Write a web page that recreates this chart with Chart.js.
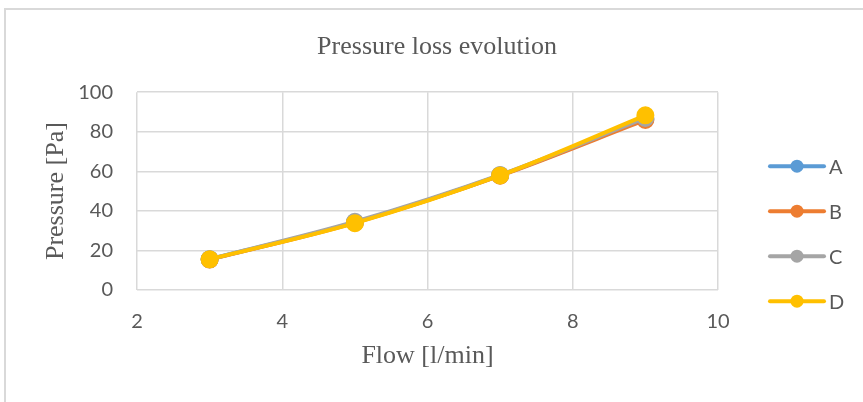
<!DOCTYPE html>
<html>
<head>
<meta charset="utf-8">
<script src="https://cdn.jsdelivr.net/npm/chart.js@4.4.0/dist/chart.umd.min.js"></script>
<style>
  html, body { margin: 0; padding: 0; background: #fff; overflow: hidden; }
  #wrap { position: relative; width: 863px; height: 402px; }
  #frame { position: absolute; left: 4px; top: 8px; width: 900px; height: 500px; border: 2px solid #d9d9d9; box-sizing: border-box; }
  canvas { position: absolute; left: 0; top: 0; }
</style>
</head>
<body>
<div id="wrap">
  <div id="frame"></div>
  <canvas id="chart" width="863" height="402"></canvas>
</div>
<script>
// data
const flow = [3, 5, 7, 9];
const seriesA = [15.5, 34.2, 58.0, 86.5];
const seriesB = [15.4, 34.0, 57.8, 86.0];
const seriesC = [15.6, 34.5, 58.2, 87.0];
const seriesD = [15.5, 33.8, 57.9, 88.3];
const seriesNames = ['A', 'B', 'C', 'D'];
const seriesColors = ['#5B9BD5', '#ED7D31', '#A5A5A5', '#FFC000'];
const xTicks = [2, 4, 6, 8, 10];
const yTicks = [0, 20, 40, 60, 80, 100];

const textGray = '#595959';
const gridGray = '#d9d9d9';

const toPoints = (ys) => flow.map((x, i) => ({ x: x, y: ys[i] }));
const allSeries = [seriesA, seriesB, seriesC, seriesD];

// later series drawn on top, like Excel
const datasets = allSeries.map((ys, i) => ({
  label: seriesNames[i],
  data: toPoints(ys),
  order: allSeries.length - i,
  borderColor: seriesColors[i],
  backgroundColor: seriesColors[i],
  pointBackgroundColor: seriesColors[i],
  pointBorderColor: seriesColors[i],
  borderWidth: 4,
  pointRadius: 7,
  pointHoverRadius: 7,
  tension: 0.35,
  showLine: true,
}));

// legend drawn Excel style: short line with marker in the middle
const sideLegend = {
  id: 'sideLegend',
  afterLayout(chart) {
    // center the title over the whole chart, not just the padded part
    if (chart.titleBlock) {
      chart.titleBlock.left = 0;
      chart.titleBlock.right = 874;
      chart.titleBlock.width = 874;
    }
  },
  afterDraw(chart) {
    const ctx = chart.ctx;
    const area = chart.chartArea;
    const x0 = area.right + 52;
    ctx.save();
    chart.data.datasets.forEach((ds, i) => {
      const y = area.top + 74 + i * 45;
      ctx.strokeStyle = ds.borderColor;
      ctx.lineWidth = 4;
      ctx.lineCap = 'round';
      ctx.beginPath();
      ctx.moveTo(x0, y);
      ctx.lineTo(x0 + 54, y);
      ctx.stroke();
      ctx.fillStyle = ds.borderColor;
      ctx.beginPath();
      ctx.arc(x0 + 27, y, 6.5, 0, Math.PI * 2);
      ctx.fill();
      ctx.fillStyle = textGray;
      ctx.font = '20px Lato';
      ctx.textBaseline = 'middle';
      ctx.textAlign = 'left';
      ctx.fillText(ds.label, x0 + 59, y + 1);
    });
    ctx.restore();
  }
};

new Chart(document.getElementById('chart'), {
  type: 'scatter',
  data: { datasets: datasets },
  options: {
    responsive: false,
    animation: false,
    layout: { padding: { left: 20, top: 0, right: 145, bottom: 0 } },
    plugins: {
      legend: { display: false },
      tooltip: { enabled: false },
      title: {
        display: true,
        text: 'Pressure loss evolution',
        color: textGray,
        font: { family: 'Liberation Serif', size: 26, weight: 'normal' },
        padding: { top: 32, bottom: 29 },
      },
    },
    scales: {
      x: {
        type: 'linear',
        min: 2,
        max: 10,
        afterBuildTicks: (s) => { s.ticks = xTicks.map(v => ({ value: v })); },
        afterFit: (s) => { s.height = 112; },
        grid: { color: gridGray, lineWidth: 1.5, drawTicks: false },
        border: { display: false },
        ticks: { color: textGray, font: { family: 'Lato', size: 20 }, padding: 20 },
        title: {
          display: true,
          text: 'Flow [l/min]',
          color: textGray,
          font: { family: 'Liberation Serif', size: 26 },
          padding: { top: 0, bottom: 30 },
        },
      },
      y: {
        type: 'linear',
        min: 0,
        max: 100,
        afterBuildTicks: (s) => { s.ticks = yTicks.map(v => ({ value: v })); },
        afterFit: (s) => { s.width = 117; },
        grid: { color: gridGray, lineWidth: 1.5, drawTicks: false },
        border: { display: false },
        ticks: { color: textGray, font: { family: 'Lato', size: 20 }, padding: 24 },
        title: {
          display: true,
          text: 'Pressure [Pa]',
          color: textGray,
          font: { family: 'Liberation Serif', size: 26 },
          padding: { top: 21, bottom: 0 },
        },
      },
    },
  },
  plugins: [sideLegend],
});
</script>
</body>
</html>
